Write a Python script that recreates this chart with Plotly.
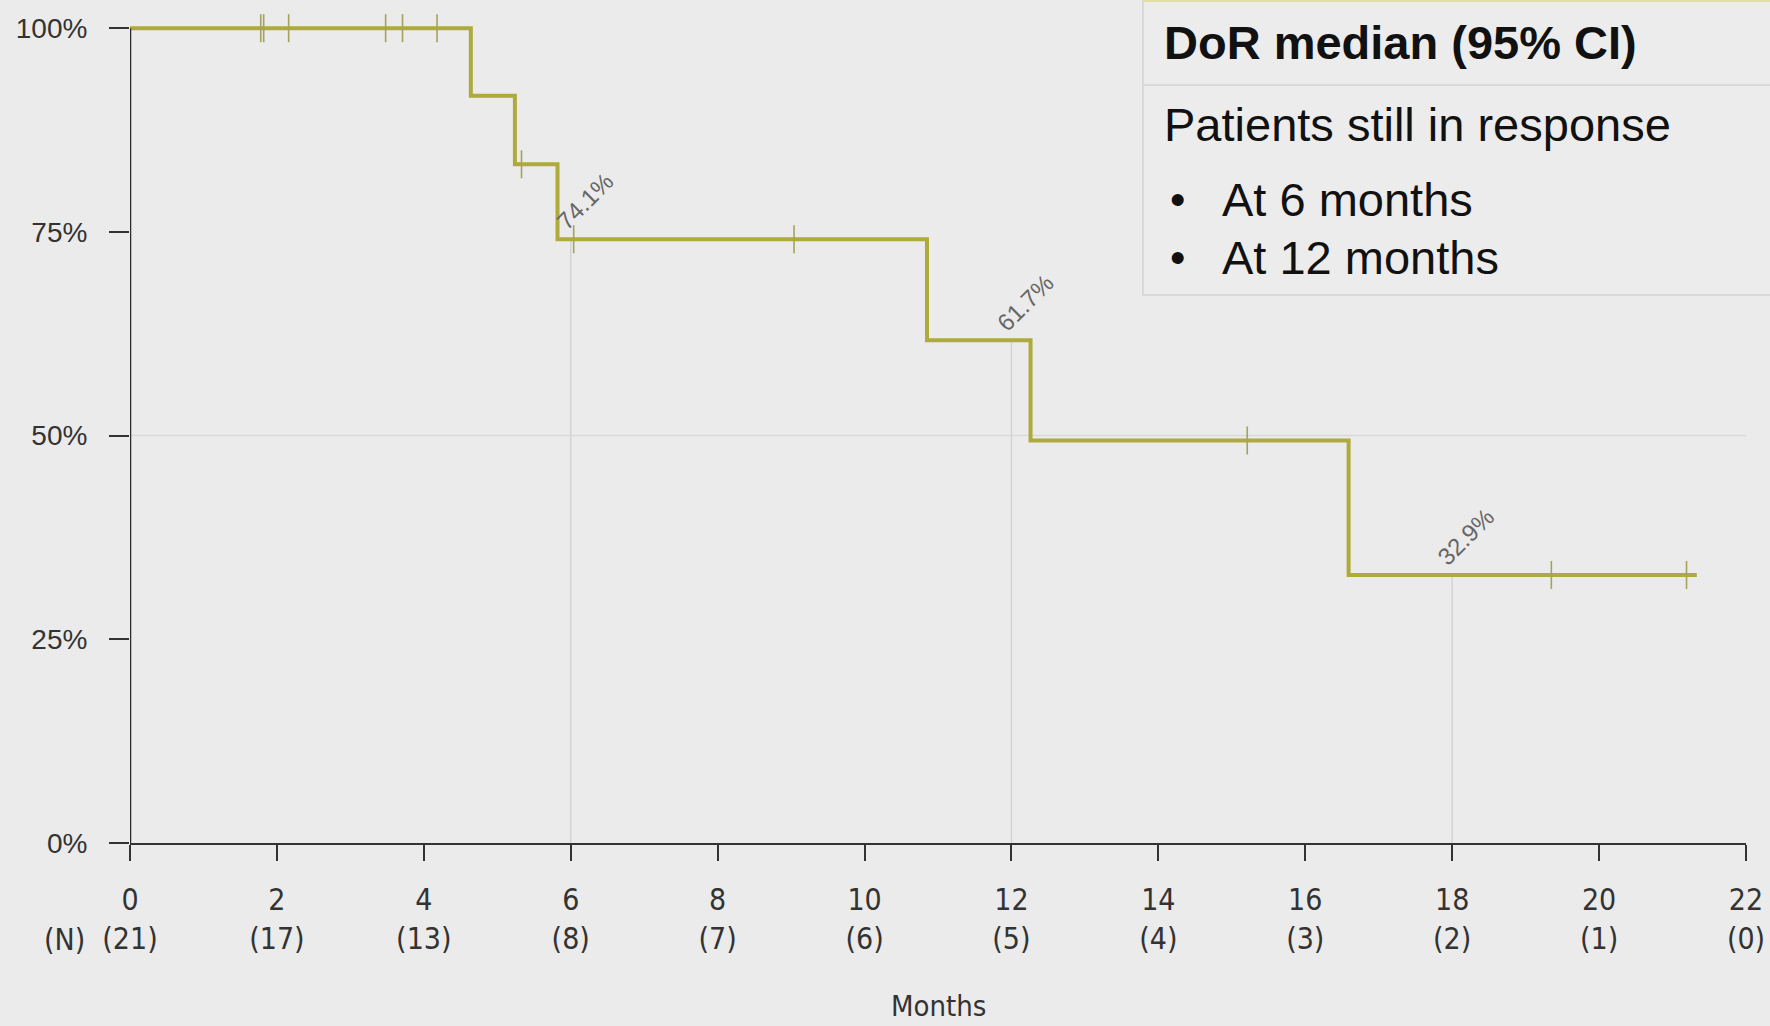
import plotly.graph_objects as go

# ---- data ----
step_months = [0, 4.64, 5.24, 5.82, 10.85, 12.26, 16.59, 21.33]
step_surv = [1.0, 0.917, 0.833, 0.741, 0.617, 0.494, 0.329, 0.329]
censor_months = [1.78, 1.82, 2.16, 3.48, 3.71, 4.18, 5.33, 6.04, 9.04, 15.21, 19.35, 21.19]
tick_months = [0, 2, 4, 6, 8, 10, 12, 14, 16, 18, 20, 22]
at_risk = [21, 17, 13, 8, 7, 6, 5, 4, 3, 2, 1, 0]
milestone_months = [6, 12, 18]
milestone_surv = [0.741, 0.617, 0.329]
milestone_labels = ["74.1%", "61.7%", "32.9%"]
y_ticks = [0, 0.25, 0.5, 0.75, 1.0]
y_ticklabels = ["0%", "25%", "50%", "75%", "100%"]

BG = "#ebebeb"
LINE = "#afaa3c"
NARROW = "DejaVu Sans Condensed, Liberation Sans Narrow, Arial Narrow, Liberation Sans, Arial, sans-serif"
SANS = "Liberation Sans, Arial, sans-serif"
AX = "#333333"

Y_TOP = 1.0125          # small headroom so the 100% line is not clipped
FIG_W, FIG_H = 1770, 1026
M_TOP, M_BOT, M_L, M_R = 18, 183, 130, 24
PLOT_H = FIG_H - M_TOP - M_BOT
PLOT_W = FIG_W - M_L - M_R
BOTTOM = M_TOP + PLOT_H


def surv_at(t):
    v = step_surv[0]
    for m, s in zip(step_months, step_surv):
        if m <= t:
            v = s
    return v


def px(p):
    return (p - M_L) / PLOT_W


def py(p):
    return (BOTTOM - p) / PLOT_H


fig = go.Figure()

# 50% reference line
fig.add_trace(go.Scatter(x=[0, tick_months[-1]], y=[0.5, 0.5], mode="lines",
                         line=dict(color="#d9d9d9", width=1.5), hoverinfo="skip", showlegend=False))

# milestone verticals
for m, s in zip(milestone_months, milestone_surv):
    fig.add_trace(go.Scatter(x=[m, m], y=[0, s], mode="lines",
                             line=dict(color="#d3d3d3", width=1.5), hoverinfo="skip", showlegend=False))

# KM step curve
fig.add_trace(go.Scatter(x=step_months, y=step_surv, mode="lines", line_shape="hv",
                         line=dict(color=LINE, width=4), showlegend=False))

# censor marks
fig.add_trace(go.Scatter(x=censor_months, y=[surv_at(t) for t in censor_months], mode="markers",
                         marker=dict(symbol="line-ns", size=20, line=dict(color="#a3a35a", width=1.6)),
                         cliponaxis=False, showlegend=False))

# milestone labels
for m, s, lab in zip(milestone_months, milestone_surv, milestone_labels):
    fig.add_annotation(x=m, y=s, text=lab, showarrow=False, textangle=-45,
                       xshift=14, yshift=38, font=dict(family=SANS, size=24, color="#666666"))

# y axis line (from below 0% up to 100%) and x axis extension to the left
fig.add_shape(type="line", xref="x", yref="y", x0=0, x1=0, y0=-0.014, y1=1.0,
              line=dict(color="#2a2a2a", width=2.5))
fig.add_shape(type="line", xref="x", yref="y", x0=-0.27, x1=0, y0=0, y1=0,
              line=dict(color=AX, width=2))

# legend / info box
fig.add_shape(type="rect", xref="paper", yref="paper", x0=px(1143), x1=1.03, y0=py(295), y1=py(-2),
              line=dict(color="#d4d4d4", width=1.5), fillcolor="#ececec", layer="above")
fig.add_shape(type="line", xref="paper", yref="paper", x0=px(1143), x1=1.03, y0=py(85), y1=py(85),
              line=dict(color="#d4d4d4", width=1.5))
fig.add_shape(type="line", xref="paper", yref="paper", x0=px(1143), x1=1.03, y0=py(1), y1=py(1),
              line=dict(color="#e2df9c", width=2))

fig.add_annotation(xref="paper", yref="paper", x=px(1162), y=py(43), xanchor="left", yanchor="middle",
                   text="<b>DoR median (95% CI)</b>", showarrow=False,
                   font=dict(family=SANS, size=47, color="#111111"))
fig.add_annotation(xref="paper", yref="paper", x=px(1162), y=py(125), xanchor="left", yanchor="middle",
                   text="Patients still in response", showarrow=False,
                   font=dict(family=SANS, size=47, color="#111111"))
for yy, txt in [(200, "At 6 months"), (257, "At 12 months")]:
    fig.add_annotation(xref="paper", yref="paper", x=px(1168), y=py(yy), xanchor="left",
                       yanchor="middle", text="•", showarrow=False,
                       font=dict(family=SANS, size=44, color="#111111"))
    fig.add_annotation(xref="paper", yref="paper", x=px(1220), y=py(yy), xanchor="left",
                       yanchor="middle", text=txt, showarrow=False,
                       font=dict(family=SANS, size=47, color="#111111"))

# (N) label, tied to the origin of the axes
fig.add_annotation(xref="x", yref="y", x=0, y=0, xshift=-66, yshift=-96, xanchor="center",
                   yanchor="middle", text="(N)", showarrow=False,
                   font=dict(family=NARROW, size=30, color=AX))

# x axis title
fig.add_annotation(xref="paper", yref="y", x=0.5, y=0, yshift=-163, xanchor="center",
                   yanchor="middle", text="Months", showarrow=False,
                   font=dict(family=NARROW, size=29, color=AX))

fig.update_layout(
    width=FIG_W, height=FIG_H,
    margin=dict(l=M_L, r=M_R, t=M_TOP, b=M_BOT, autoexpand=False),
    paper_bgcolor=BG, plot_bgcolor=BG,
    xaxis=dict(range=[0, 22], tickvals=tick_months, automargin=False,
               ticktext=[f"{m}<br>({n})" for m, n in zip(tick_months, at_risk)],
               showline=True, linecolor=AX, linewidth=2, ticks="outside", ticklen=16,
               tickwidth=1.5, tickcolor=AX, showgrid=False, zeroline=False,
               tickfont=dict(family=NARROW, size=30, color=AX), ticklabelstandoff=13),
    yaxis=dict(range=[0, Y_TOP], tickvals=y_ticks, ticktext=y_ticklabels, automargin=False,
               showline=False, ticks="outside", ticklen=20,
               tickwidth=1.5, tickcolor=AX, showgrid=False, zeroline=False,
               tickfont=dict(family=SANS, size=28, color=AX), ticklabelstandoff=16),
    showlegend=False,
)

fig.write_html(
    "out.html",
    config={"displayModeBar": False},
    post_script=("document.documentElement.style.overflow='hidden';"
                 "document.body.style.overflow='hidden';"
                 "document.body.style.margin='0';"
                 "document.body.style.background='#ebebeb';"),
)
